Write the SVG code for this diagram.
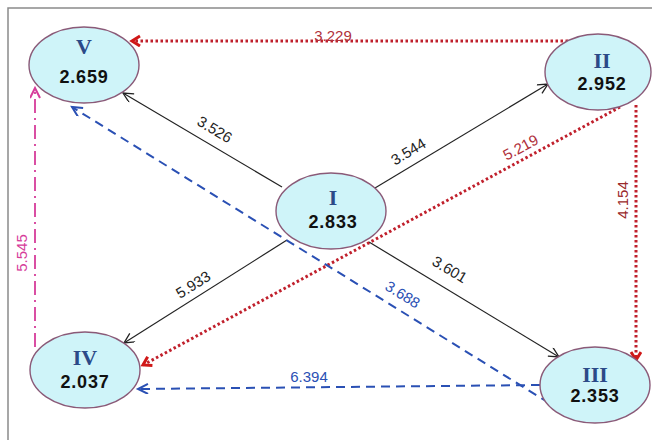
<svg xmlns="http://www.w3.org/2000/svg" width="652" height="440" viewBox="0 0 652 440">
<defs>
<style>
.node{fill:#cff4f9;stroke:#8a5a78;stroke-width:1.4}
.rn{font-family:"Liberation Serif","Times New Roman",serif;font-weight:bold;font-size:22px;fill:#2b4a88;text-anchor:middle}
.val{font-family:"Liberation Sans",Arial,sans-serif;font-weight:bold;font-size:18px;fill:#111;text-anchor:middle;letter-spacing:0.8px}
.lbl{font-family:"Liberation Sans",Arial,sans-serif;font-size:15px;text-anchor:middle}
.blk{stroke:#222;stroke-width:1.2;fill:none}
.red{stroke:#c0202c;stroke-width:3;stroke-dasharray:2.5 2.5;fill:none}
.blu{stroke:#2a50b4;stroke-width:2;stroke-dasharray:9 6;fill:none}
.mag{stroke:#d63c9a;stroke-width:1.8;stroke-dasharray:14 5 2 5;fill:none}
</style>
<marker id="ab" markerUnits="userSpaceOnUse" markerWidth="14" markerHeight="12" refX="11" refY="5" orient="auto"><path d="M1,0 L11,5 L1,10" fill="none" stroke="#222" stroke-width="1.3"/></marker>
<marker id="ar" markerUnits="userSpaceOnUse" markerWidth="14" markerHeight="14" refX="10" refY="6" orient="auto"><path d="M2,1 L10,6 L2,11" fill="none" stroke="#d01818" stroke-width="3"/></marker>
<marker id="abl" markerUnits="userSpaceOnUse" markerWidth="14" markerHeight="12" refX="11" refY="5" orient="auto"><path d="M1,0 L11,5 L1,10" fill="none" stroke="#2a50b4" stroke-width="2"/></marker>
<marker id="am" markerUnits="userSpaceOnUse" markerWidth="14" markerHeight="12" refX="11" refY="5" orient="auto"><path d="M1,0 L11,5 L1,10" fill="none" stroke="#d63c9a" stroke-width="2"/></marker>
</defs>
<rect width="652" height="440" fill="#fff"/>
<path d="M8,440 V8 H652" fill="none" stroke="#8a8a8a" stroke-width="1.5"/>
<g id="connectors">
<line class="blk" x1="282" y1="187" x2="123" y2="93" marker-end="url(#ab)"/>
<line class="blk" x1="375" y1="188" x2="548" y2="84" marker-end="url(#ab)"/>
<line class="blk" x1="287" y1="240" x2="124" y2="343" marker-end="url(#ab)"/>
<line class="blk" x1="369" y1="242" x2="559" y2="357" marker-end="url(#ab)"/>
<line class="red" x1="568" y1="41" x2="132" y2="41" marker-end="url(#ar)"/>
<line class="red" x1="620" y1="107" x2="143" y2="365" marker-end="url(#ar)"/>
<line class="red" x1="636" y1="105" x2="636" y2="360" marker-end="url(#ar)"/>
<line class="blu" x1="549" y1="403" x2="72" y2="107" marker-end="url(#abl)"/>
<line class="blu" x1="540" y1="385" x2="138" y2="389" marker-end="url(#abl)"/>
<line class="mag" x1="35" y1="347" x2="35" y2="88" marker-end="url(#am)"/>
<text class="lbl" x="333" y="41" fill="#b0303a">3.229</text>
<text class="lbl" transform="translate(212,134) rotate(31)" fill="#222">3.526</text>
<text class="lbl" transform="translate(411,156) rotate(-31)" fill="#222">3.544</text>
<text class="lbl" transform="translate(523,152) rotate(-28)" fill="#b0303a">5.219</text>
<text class="lbl" transform="translate(628,200) rotate(-90)" fill="#9a2a2a">4.154</text>
<text class="lbl" transform="translate(196,289) rotate(-32)" fill="#222">5.933</text>
<text class="lbl" transform="translate(447,274) rotate(31)" fill="#222">3.601</text>
<text class="lbl" transform="translate(400,299) rotate(32)" fill="#2a50b4">3.688</text>
<text class="lbl" x="309" y="382" fill="#2a50b4">6.394</text>
<text class="lbl" transform="translate(27,253) rotate(-90)" fill="#d63c9a">5.545</text>
</g>
<g id="node-V"><ellipse class="node" cx="84" cy="65" rx="55" ry="38"/><text class="rn" x="84" y="54">V</text><text class="val" x="84" y="83">2.659</text></g>
<g id="node-II"><ellipse class="node" cx="598" cy="72" rx="53" ry="38"/><text class="rn" x="602" y="68">II</text><text class="val" x="602" y="90">2.952</text></g>
<g id="node-I"><ellipse class="node" cx="331" cy="211" rx="55" ry="38"/><text class="rn" x="333" y="205">I</text><text class="val" x="333" y="228">2.833</text></g>
<g id="node-IV"><ellipse class="node" cx="85" cy="370" rx="55" ry="38"/><text class="rn" x="85" y="365">IV</text><text class="val" x="85" y="388">2.037</text></g>
<g id="node-III"><ellipse class="node" cx="595" cy="385" rx="55" ry="38"/><text class="rn" x="595" y="382">III</text><text class="val" x="595" y="402">2.353</text></g>
</svg>
